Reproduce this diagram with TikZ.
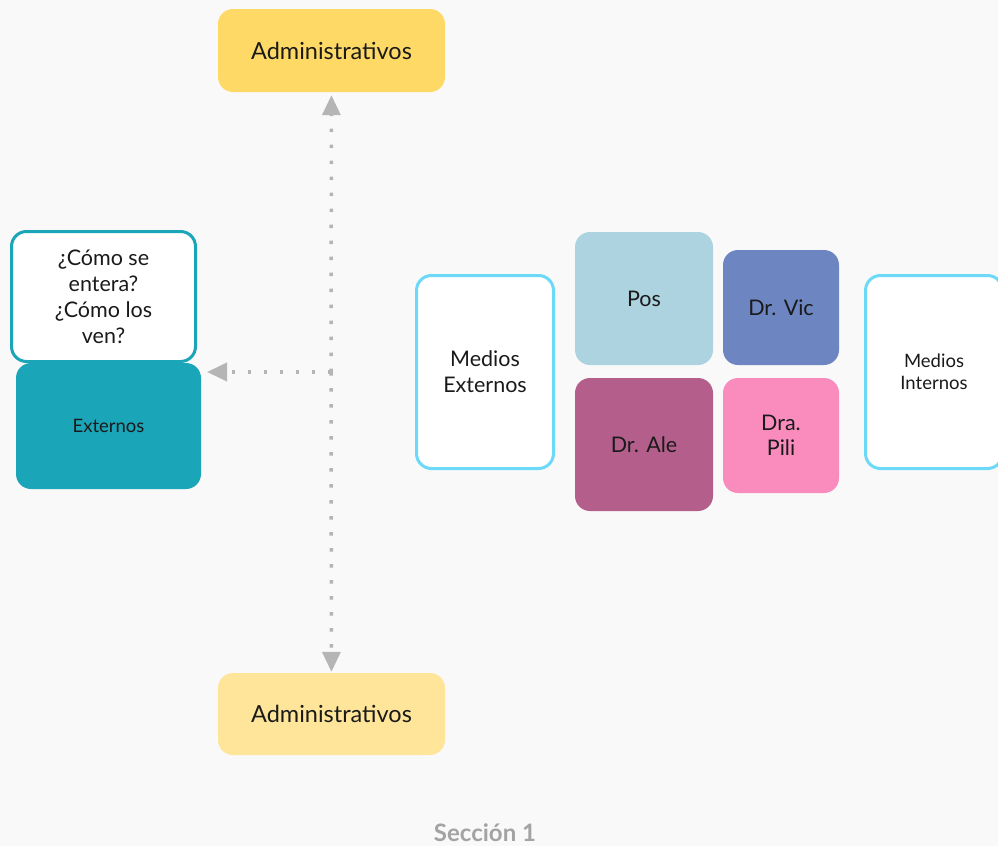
\documentclass[tikz,border=0pt]{standalone}
\usepackage{fontspec}
\setmainfont{Lato}
\usepackage{tikz}
\usetikzlibrary{arrows.meta}

\definecolor{fondo}{HTML}{F9F9F9}
\definecolor{amarillo}{HTML}{FFD966}
\definecolor{amarilloclaro}{HTML}{FFE599}
\definecolor{turquesa}{HTML}{1BA5B8}
\definecolor{celeste}{HTML}{6DD9F9}
\definecolor{azulclaro}{HTML}{ADD3E0}
\definecolor{azul}{HTML}{6D86C1}
\definecolor{morado}{HTML}{B45F8B}
\definecolor{rosa}{HTML}{F98BBD}
\definecolor{gris}{HTML}{B5B5B5}
\definecolor{grisTexto}{HTML}{A3A3A3}
\definecolor{texto}{HTML}{1A1A1A}

\tikzset{
  caja/.style={rounded corners=15pt, align=center, text=texto, inner sep=0pt, font=\fontsize{21.5}{26}\selectfont},
  borde/.style={caja, draw=#1, line width=3pt, fill=white}
}

\begin{document}
\begin{tikzpicture}[x=1pt,y=-1pt]

\fill[fondo] (0,0) rectangle (998,846);
\useasboundingbox (0,0) rectangle (998,846);

\begin{scope}
	\node[caja, fill=amarillo, minimum width=227pt, minimum height=83pt, font=\fontsize{23.5}{28}\selectfont] (admA) at (331.5,50.5) {Administrativos};
	\node[caja, fill=amarilloclaro, minimum width=227pt, minimum height=82pt, font=\fontsize{23.5}{28}\selectfont] (admB) at (331.5,714) {Administrativos};

	\node[caja, fill=turquesa, minimum width=185pt, minimum height=126pt, font=\fontsize{18.5}{22}\selectfont] (ext) at (108.5,426) {Externos};
	\node[borde=turquesa, minimum width=184pt, minimum height=130pt] (preg) at (103.5,296.5) {¿Cómo se\\entera?\\¿Cómo los\\ven?};

	\node[borde=celeste, minimum width=137pt, minimum height=193pt] (medExt) at (485,372) {Medios\\Externos};
	\node[borde=celeste, minimum width=137pt, minimum height=193pt, font=\fontsize{18.5}{22}\selectfont] (medInt) at (934,372) {Medios\\Internos};

	\node[caja, fill=azulclaro, minimum width=138pt, minimum height=133pt] (pos) at (644,298.5) {Pos};
	\node[caja, fill=azul, minimum width=116pt, minimum height=115pt] (vic) at (781,307.5) {Dr. Vic};
	\node[caja, fill=morado, minimum width=138pt, minimum height=133pt] (ale) at (644,444.5) {Dr. Ale};
	\node[caja, fill=rosa, minimum width=116pt, minimum height=115pt, font=\fontsize{21.5}{25}\selectfont] (pili) at (781,435.5) {Dra.\\Pili};

	\node[text=grisTexto, font=\fontsize{24}{28}\selectfont\bfseries] (sec) at (485,833) {Sección 1};

	\coordinate (centro) at (331,372);
	\coordinate (punta) at (207,372);
\end{scope}

\begin{scope}[>={Triangle[length=20pt,width=18pt]}, every edge/.style={draw=gris, line width=3.5pt, dash pattern=on 3.5pt off 12.5pt}]

    \path [->] (centro) edge[shorten >=3pt] (admA);
    \path [->] (centro) edge[shorten >=1pt] (admB);
    \path [->] (centro) edge (punta);

\end{scope}

\end{tikzpicture}
\end{document}
